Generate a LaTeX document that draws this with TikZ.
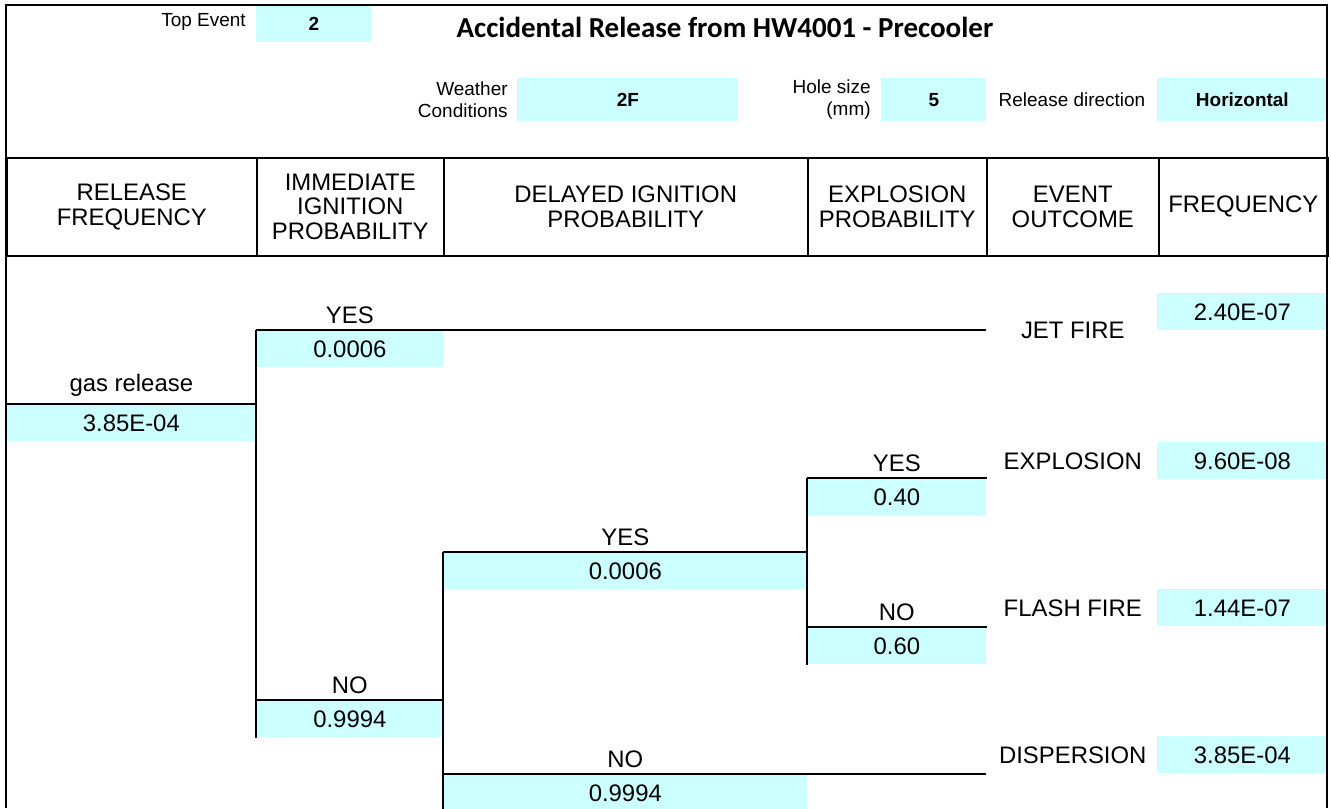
\documentclass[tikz,border=0pt]{standalone}
\usepackage{fontspec}
\setmainfont{Liberation Sans}
\newfontfamily\titlefont{Carlito}
\usetikzlibrary{positioning}
\definecolor{cellcyan}{RGB}{204,255,255}

\begin{document}
\begin{tikzpicture}[
    x=0.02cm, y=-0.02cm,
    font=\fontsize{13.6}{14}\selectfont,
    frame/.style={line width=1.3pt},
    branch/.style={line width=1.1pt},
    headcell/.style={draw, line width=0.9pt, minimum height=1.96cm, align=center, inner sep=0pt, anchor=north west},
    cell/.style={fill=cellcyan, inner sep=0pt, minimum height=0.74cm, anchor=north west},
    infocell/.style={fill=cellcyan, inner sep=0pt, minimum height=0.86cm, anchor=north west, font=\fontsize{10.8}{12}\selectfont\bfseries},
    info/.style={inner sep=0pt, align=right, font=\fontsize{10.8}{12.5}\selectfont},
    choice/.style={inner sep=0pt},
    outcome/.style={inner sep=0pt}
]
\useasboundingbox (0,0) rectangle (1331,808);

% Title block
\node[info, anchor=east] (topevl) at (246,22) {Top Event};
\node[infocell, minimum width=2.3cm, minimum height=0.72cm] (topev) at (256,6) {2};
\node[font=\titlefont\bfseries\fontsize{16.5}{18}\selectfont] (title) at (725,27) {Accidental Release from HW4001 - Precooler};

\node[info, anchor=east] (wxl) at (508,100) {Weather\\Conditions};
\node[infocell, minimum width=4.42cm] (wx) at (517,78) {2F};
\node[info, anchor=east] (holel) at (871,100) {Hole size\\(mm)};
\node[infocell, minimum width=2.1cm] (hole) at (881,78) {5};
\node[info] (dirl) at (1072,100) {Release direction};
\node[infocell, minimum width=3.4cm] (dir) at (1157,78) {Horizontal};

% Header row
\node[headcell, minimum width=5cm] (hRF) at (6,157) {RELEASE\\FREQUENCY};
\node[headcell, minimum width=3.74cm] (hII) at (256,157) {IMMEDIATE\\IGNITION\\PROBABILITY};
\node[headcell, minimum width=7.28cm] (hDI) at (443,157) {DELAYED IGNITION\\PROBABILITY};
\node[headcell, minimum width=3.58cm] (hEX) at (807,157) {EXPLOSION\\PROBABILITY};
\node[headcell, minimum width=3.44cm] (hEO) at (986,157) {EVENT\\OUTCOME};
\node[headcell, minimum width=3.38cm] (hFQ) at (1158,157) {FREQUENCY};

% Release
\node[cell, minimum width=5cm] (rf) at (6,404) {3.85E-04};
\node[choice, above=4pt of rf] (rfl) {gas release};

% Immediate ignition
\node[cell, minimum width=3.74cm] (iiy) at (256,330) {0.0006};
\node[choice, above=3.5pt of iiy] (iiyl) {YES};
\node[cell, minimum width=3.74cm] (iin) at (256,700) {0.9994};
\node[choice, above=3.5pt of iin] (iinl) {NO};

% Delayed ignition
\node[cell, minimum width=7.28cm] (diy) at (443,552) {0.0006};
\node[choice, above=3.5pt of diy] (diyl) {YES};
\node[cell, minimum width=7.28cm] (din) at (443,774) {0.9994};
\node[choice, above=3.5pt of din] (dinl) {NO};

% Explosion
\node[cell, minimum width=3.58cm] (exy) at (807,478) {0.40};
\node[choice, above=3.5pt of exy] (exyl) {YES};
\node[cell, minimum width=3.58cm] (exn) at (807,627) {0.60};
\node[choice, above=3.5pt of exn] (exnl) {NO};

% Outcomes and frequencies
\node[cell, minimum width=3.4cm] (f1) at (1157,293) {2.40E-07};
\node[cell, minimum width=3.4cm] (f2) at (1157,442) {9.60E-08};
\node[cell, minimum width=3.4cm] (f3) at (1157,589) {1.44E-07};
\node[cell, minimum width=3.4cm] (f4) at (1157,736) {3.85E-04};
\node[outcome] (o1) at (hEO.center |- iiy.north) {JET FIRE};
\node[outcome] (o2) at (hEO.center |- f2) {EXPLOSION};
\node[outcome] (o3) at (hEO.center |- f3) {FLASH FIRE};
\node[outcome] (o4) at (hEO.center |- f4) {DISPERSION};

% Branches
\draw[branch] (rf.north west) -- (rf.north east);
\draw[branch] (iiy.north west) -- (iin.south west);
\draw[branch] (iiy.north west) -- (iiy.north west -| hEO.west);
\draw[branch] (iin.north west) -- (iin.north east);
\draw[branch] (diy.north west) -- (din.south west);
\draw[branch] (diy.north west) -- (diy.north east);
\draw[branch] (din.north west) -- (din.north west -| hEO.west);
\draw[branch] (exy.north west) -- (exn.south west);
\draw[branch] (exy.north west) -- (exy.north east);
\draw[branch] (exn.north west) -- (exn.north east);

% Outer frame
\draw[frame] (6,808) -- (6,5) -- (1327,5) -- (1327,808);
\end{tikzpicture}
\end{document}
